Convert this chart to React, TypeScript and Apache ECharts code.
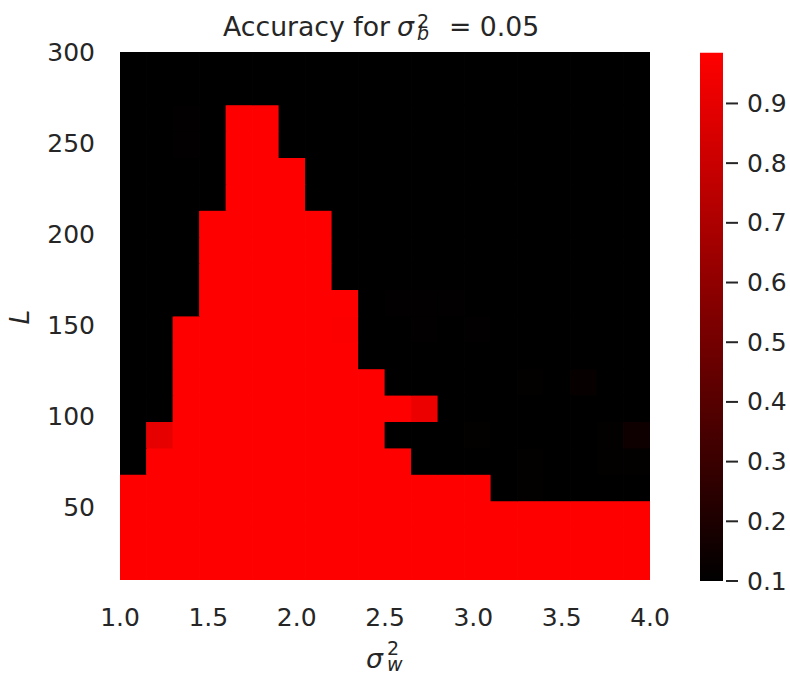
import React, { useEffect, useRef } from "react";
import * as echarts from "echarts";

// σ_w² cell centres (x) and L cell centres (y)
const sigmaW = [1.075, 1.225, 1.375, 1.525, 1.675, 1.825, 1.975, 2.125, 2.275, 2.425, 2.575, 2.725, 2.875, 3.025, 3.175, 3.325, 3.475, 3.625, 3.775, 3.925];
const depthL = [17.25, 31.75, 46.25, 60.75, 75.25, 89.75, 104.25, 118.75, 133.25, 147.75, 162.25, 176.75, 191.25, 205.75, 220.25, 234.75, 249.25, 263.75, 278.25, 292.75];

// accuracy[j][i] : row j = depthL[j] (bottom to top), column i = sigmaW[i]
const accuracy: number[][] = [
  [0.985, 0.985, 0.985, 0.985, 0.985, 0.985, 0.985, 0.985, 0.985, 0.985, 0.985, 0.98, 0.985, 0.985, 0.985, 0.985, 0.985, 0.98, 0.985, 0.985],
  [0.985, 0.985, 0.985, 0.985, 0.985, 0.985, 0.985, 0.985, 0.985, 0.985, 0.985, 0.985, 0.985, 0.985, 0.985, 0.985, 0.985, 0.985, 0.985, 0.985],
  [0.985, 0.985, 0.985, 0.985, 0.985, 0.985, 0.985, 0.985, 0.985, 0.985, 0.985, 0.985, 0.985, 0.985, 0.985, 0.985, 0.985, 0.985, 0.985, 0.985],
  [0.985, 0.985, 0.985, 0.985, 0.985, 0.985, 0.985, 0.985, 0.985, 0.985, 0.985, 0.985, 0.985, 0.985, 0.1, 0.11, 0.1, 0.1, 0.1, 0.1],
  [0.1, 0.985, 0.985, 0.985, 0.985, 0.985, 0.985, 0.985, 0.985, 0.985, 0.985, 0.1, 0.1, 0.1, 0.1, 0.11, 0.1, 0.1, 0.11, 0.11],
  [0.1, 0.9, 0.985, 0.985, 0.985, 0.985, 0.985, 0.985, 0.985, 0.985, 0.1, 0.1, 0.1, 0.11, 0.1, 0.1, 0.1, 0.1, 0.11, 0.15],
  [0.1, 0.1, 0.985, 0.985, 0.985, 0.985, 0.985, 0.985, 0.985, 0.985, 0.985, 0.92, 0.1, 0.1, 0.1, 0.1, 0.1, 0.1, 0.1, 0.1],
  [0.1, 0.1, 0.985, 0.985, 0.985, 0.985, 0.985, 0.985, 0.985, 0.985, 0.1, 0.1, 0.1, 0.1, 0.1, 0.11, 0.1, 0.12, 0.1, 0.1],
  [0.1, 0.1, 0.985, 0.985, 0.985, 0.985, 0.985, 0.985, 0.985, 0.1, 0.1, 0.1, 0.1, 0.1, 0.1, 0.1, 0.1, 0.1, 0.1, 0.1],
  [0.1, 0.1, 0.985, 0.985, 0.985, 0.985, 0.985, 0.985, 0.975, 0.1, 0.1, 0.107, 0.1, 0.107, 0.1, 0.1, 0.1, 0.1, 0.1, 0.1],
  [0.1, 0.1, 0.1, 0.985, 0.985, 0.985, 0.985, 0.985, 0.985, 0.1, 0.107, 0.107, 0.107, 0.1, 0.1, 0.1, 0.1, 0.1, 0.1, 0.1],
  [0.1, 0.1, 0.1, 0.985, 0.985, 0.985, 0.985, 0.985, 0.1, 0.1, 0.1, 0.1, 0.1, 0.1, 0.1, 0.1, 0.1, 0.1, 0.1, 0.1],
  [0.1, 0.1, 0.1, 0.985, 0.985, 0.985, 0.985, 0.985, 0.1, 0.1, 0.1, 0.1, 0.1, 0.1, 0.1, 0.1, 0.1, 0.1, 0.1, 0.1],
  [0.1, 0.1, 0.1, 0.985, 0.985, 0.985, 0.985, 0.985, 0.1, 0.1, 0.1, 0.1, 0.1, 0.1, 0.1, 0.1, 0.1, 0.1, 0.1, 0.1],
  [0.1, 0.1, 0.1, 0.1, 0.985, 0.985, 0.985, 0.1, 0.1, 0.1, 0.1, 0.1, 0.1, 0.1, 0.1, 0.1, 0.1, 0.1, 0.1, 0.1],
  [0.1, 0.1, 0.1, 0.1, 0.985, 0.985, 0.985, 0.1, 0.1, 0.1, 0.1, 0.1, 0.1, 0.1, 0.1, 0.1, 0.1, 0.1, 0.1, 0.1],
  [0.1, 0.1, 0.107, 0.1, 0.985, 0.985, 0.1, 0.1, 0.1, 0.1, 0.1, 0.1, 0.1, 0.1, 0.1, 0.1, 0.1, 0.1, 0.1, 0.1],
  [0.1, 0.1, 0.107, 0.1, 0.985, 0.985, 0.1, 0.1, 0.1, 0.1, 0.1, 0.1, 0.1, 0.1, 0.1, 0.1, 0.1, 0.1, 0.1, 0.1],
  [0.1, 0.1, 0.1, 0.1, 0.1, 0.1, 0.1, 0.1, 0.1, 0.1, 0.1, 0.1, 0.1, 0.1, 0.1, 0.1, 0.1, 0.1, 0.1, 0.1],
  [0.1, 0.1, 0.1, 0.1, 0.1, 0.1, 0.1, 0.1, 0.1, 0.1, 0.1, 0.1, 0.1, 0.1, 0.1, 0.1, 0.1, 0.1, 0.1, 0.1],
];

const yTickValues = [50, 100, 150, 200, 250, 300];
const colorbarTicks = [0.1, 0.2, 0.3, 0.4, 0.5, 0.6, 0.7, 0.8, 0.9];
const COLOR_MIN = 0.1;
const COLOR_MAX = 0.985;

const FONT = "DejaVu Sans";
const INK = "#262626";
const TICK_SIZE = 25;
const LABEL_SIZE = 26.7;
const SCRIPT_SIZE = 19;

export default function App() {
  const ref = useRef<HTMLDivElement>(null);

  useEffect(() => {
    const chart = echarts.init(ref.current as HTMLDivElement, null, { renderer: "svg" });
    const cells: number[][] = [];
    depthL.forEach((L, j) => {
      sigmaW.forEach((s, i) => {
        cells.push([s, L, accuracy[j][i]]);
      });
    });
    const halfW = (sigmaW[1] - sigmaW[0]) / 2;
    const halfH = (depthL[1] - depthL[0]) / 2;

    const txt = (x: number, y: number, text: string, size: number, italic = false) => ({
      type: "text",
      x,
      y,
      silent: true,
      style: {
        text,
        fontFamily: FONT,
        fontSize: size,
        fontStyle: italic ? "italic" : "normal",
        fill: INK,
        align: "left",
        verticalAlign: "middle",
      },
    });

    // superscript "2" stacked above an italic subscript letter, as one text block
    const supSub = (x: number, y: number, sub: string, lineHeight: number) => ({
      type: "text",
      x,
      y,
      silent: true,
      style: {
        text: "{n|2}\n{i|" + sub + "}",
        align: "left",
        verticalAlign: "middle",
        fill: INK,
        fontFamily: FONT,
        fontSize: SCRIPT_SIZE,
        lineHeight,
        rich: {
          n: { fontFamily: FONT, fontSize: SCRIPT_SIZE, fill: INK, lineHeight },
          i: { fontFamily: FONT, fontSize: SCRIPT_SIZE, fontStyle: "italic", fill: INK, lineHeight },
        },
      },
    });

    const option: any = {
      animation: false,
      backgroundColor: "#ffffff",
      grid: [
        { left: 120, top: 52, width: 530, height: 528, containLabel: false },
        { left: 700, top: 52.7, width: 23, height: 528.3, containLabel: false },
      ],
      xAxis: [
        {
          type: "value",
          gridIndex: 0,
          min: 1.0,
          max: 4.0,
          interval: 0.5,
          axisLine: { show: false },
          axisTick: { show: false },
          splitLine: { show: false },
          axisLabel: {
            color: INK,
            fontFamily: FONT,
            fontSize: TICK_SIZE,
            margin: 25,
            formatter: (v: number) => v.toFixed(1),
          },
        },
        {
          type: "value",
          gridIndex: 1,
          min: 0,
          max: 1,
          show: false,
        },
      ],
      yAxis: [
        {
          type: "value",
          gridIndex: 0,
          min: 10,
          max: 300,
          axisLine: { show: false },
          axisTick: { show: false },
          splitLine: { show: false },
          axisLabel: {
            color: INK,
            fontFamily: FONT,
            fontSize: TICK_SIZE,
            margin: 25,
            customValues: yTickValues,
            showMinLabel: true,
            showMaxLabel: true,
          },
        },
        {
          type: "value",
          gridIndex: 1,
          min: COLOR_MIN,
          max: COLOR_MAX,
          position: "right",
          axisLine: { show: false },
          splitLine: { show: false },
          axisTick: { show: false },
          axisLabel: {
            color: INK,
            fontFamily: FONT,
            fontSize: TICK_SIZE,
            margin: 24,
            customValues: colorbarTicks,
            formatter: (v: number) => v.toFixed(1),
          },
        },
      ],
      visualMap: {
        show: false,
        type: "continuous",
        seriesIndex: 0,
        dimension: 2,
        min: COLOR_MIN,
        max: COLOR_MAX,
        inRange: { color: ["#000000", "#ff0000"] },
      },
      graphic: [
        txt(223, 26.5, "Accuracy for", LABEL_SIZE),
        txt(397, 26.5, "σ", LABEL_SIZE, true),
        supSub(417, 27.2, "b", 11.5),
        txt(449, 26.5, "= 0.05", LABEL_SIZE),
        txt(366, 658.5, "σ", LABEL_SIZE, true),
        supSub(387, 656.3, "w", 16),
        {
          type: "text",
          x: 19,
          y: 317,
          rotation: Math.PI / 2,
          silent: true,
          style: {
            text: "L",
            fontFamily: FONT,
            fontSize: LABEL_SIZE,
            fontStyle: "italic",
            fill: INK,
            align: "center",
            verticalAlign: "middle",
          },
        },
      ],
      series: [
        {
          type: "custom",
          xAxisIndex: 0,
          yAxisIndex: 0,
          data: cells,
          encode: { x: 0, y: 1 },
          clip: true,
          renderItem: (params: any, api: any) => {
            const x = api.value(0);
            const y = api.value(1);
            const p0 = api.coord([x - halfW, y + halfH]);
            const p1 = api.coord([x + halfW, y - halfH]);
            const color = api.visual("color");
            return {
              type: "rect",
              shape: {
                x: p0[0] - 0.4,
                y: p0[1] - 0.4,
                width: p1[0] - p0[0] + 0.8,
                height: p1[1] - p0[1] + 0.8,
              },
              style: { fill: color },
            };
          },
        },
        {
          type: "custom",
          xAxisIndex: 1,
          yAxisIndex: 1,
          data: [[0, COLOR_MIN, 1, COLOR_MAX]],
          silent: true,
          clip: false,
          renderItem: (params: any, api: any) => {
            const p0 = api.coord([api.value(0), api.value(3)]);
            const p1 = api.coord([api.value(2), api.value(1)]);
            const ticks = colorbarTicks.map((t) => {
              const py = api.coord([1, t])[1];
              return {
                type: "line",
                shape: { x1: p1[0] + 3, y1: py, x2: p1[0] + 15, y2: py },
                style: { stroke: INK, lineWidth: 2 },
              };
            });
            return {
              type: "group",
              children: [
                {
                  type: "rect",
                  shape: { x: p0[0], y: p0[1], width: p1[0] - p0[0], height: p1[1] - p0[1] },
                  style: {
                    fill: new echarts.graphic.LinearGradient(0, 1, 0, 0, [
                      { offset: 0, color: "#000000" },
                      { offset: 1, color: "#ff0000" },
                    ]),
                  },
                },
                ...ticks,
              ],
            };
          },
        },
      ],
    };

    chart.setOption(option);
    return () => {
      chart.dispose();
    };
  }, []);

  return (
    <div
      ref={ref}
      style={{ position: "fixed", left: 0, top: 0, width: 790, height: 674, background: "#ffffff" }}
    />
  );
}
